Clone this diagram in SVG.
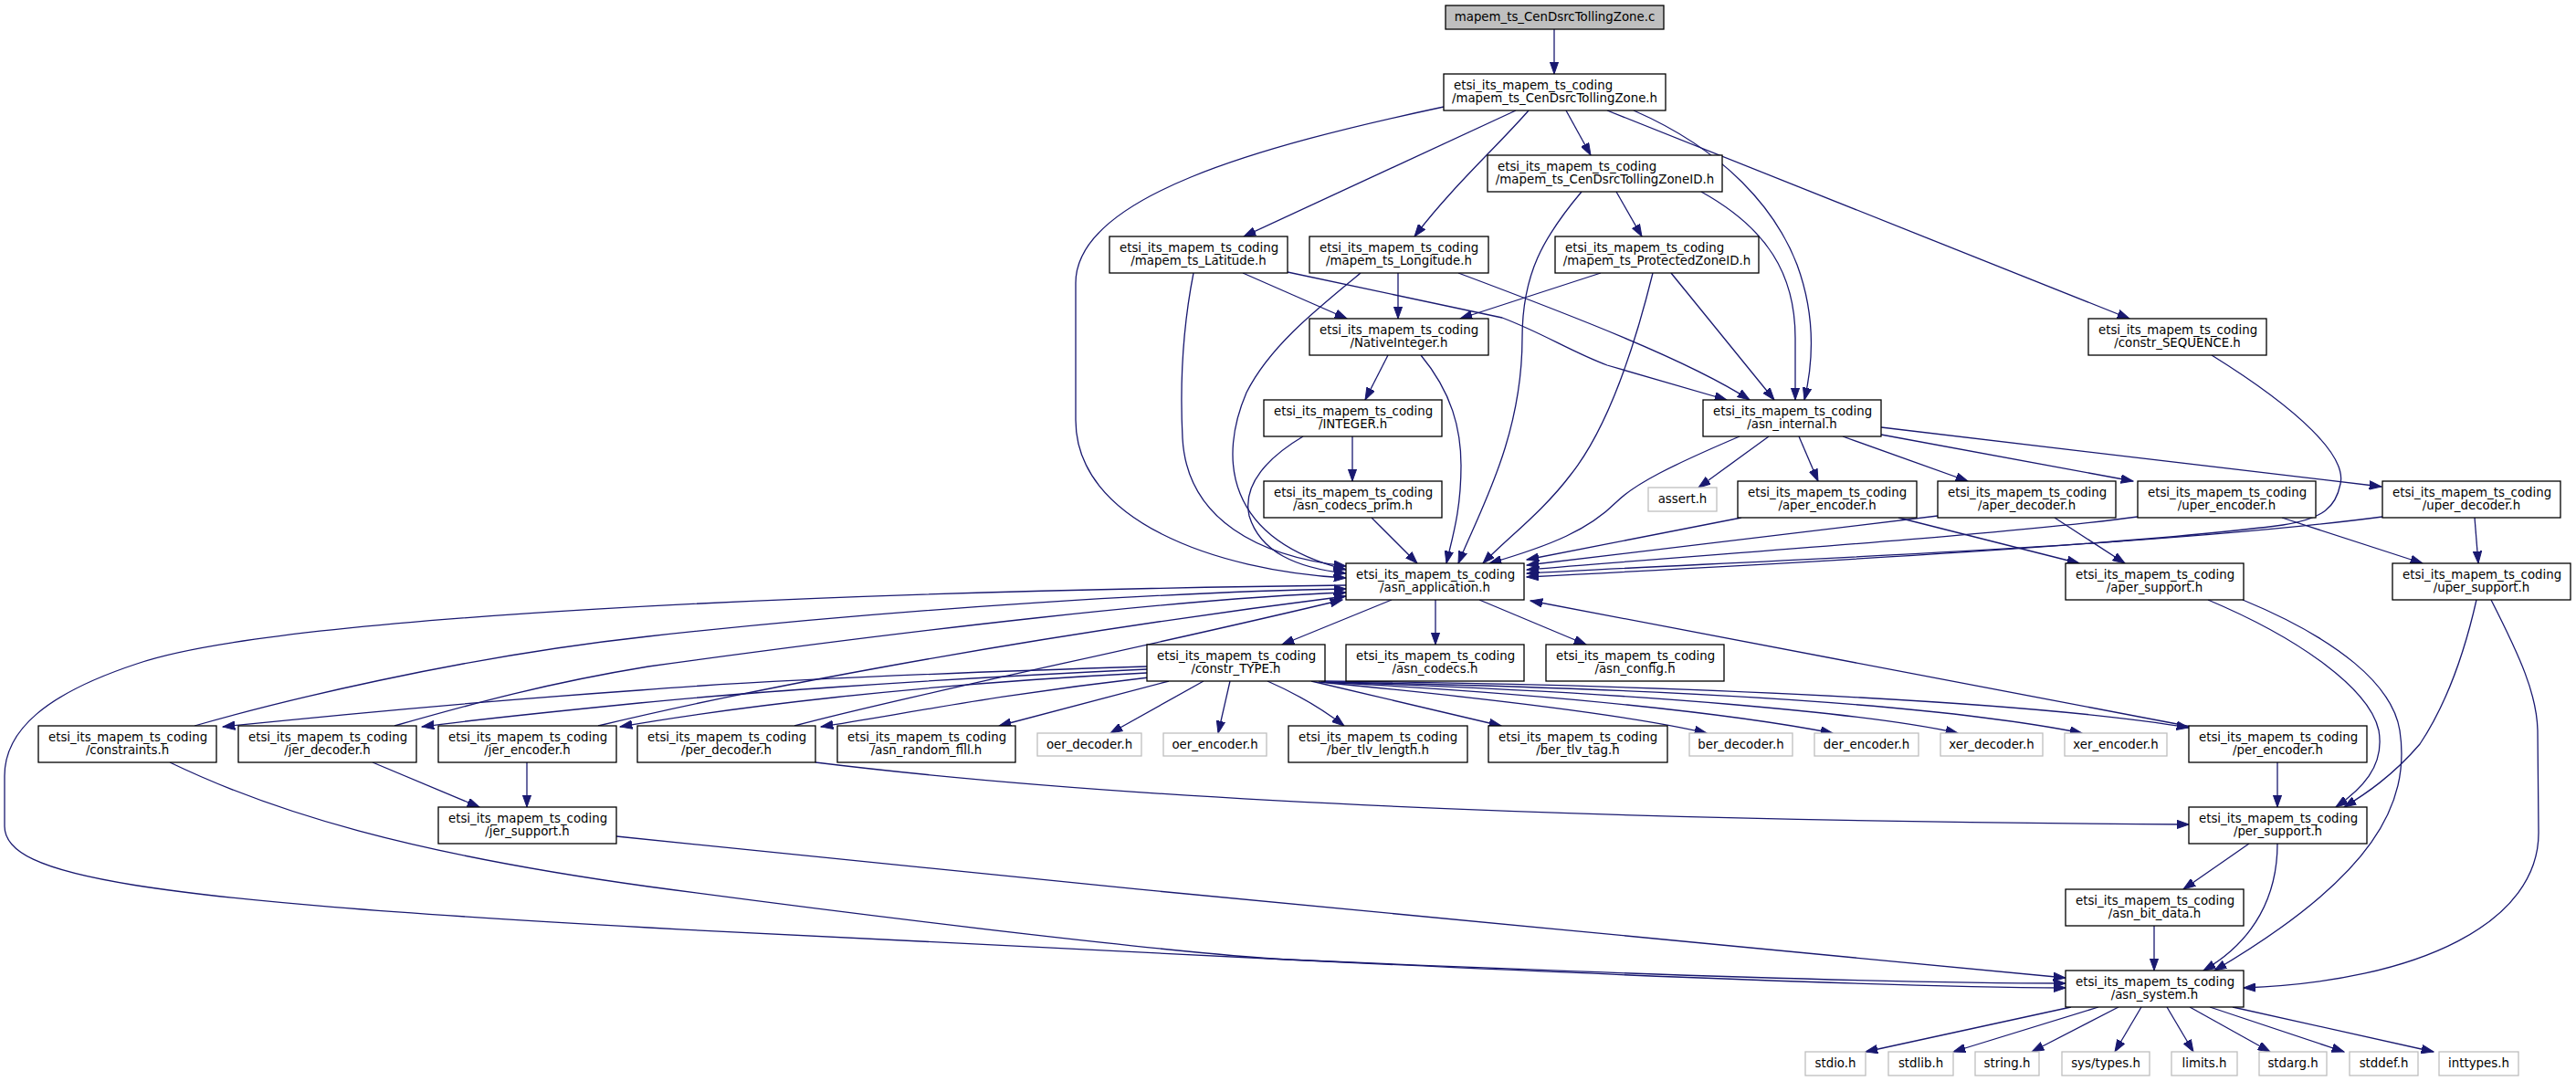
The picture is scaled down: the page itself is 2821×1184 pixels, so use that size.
<svg xmlns="http://www.w3.org/2000/svg" width="2821" height="1184" viewBox="0 0 2821 1184">
<style>
.n rect{fill:#fff;stroke:#000;stroke-width:1.3}
.g rect{fill:#fff;stroke:#bfbfbf;stroke-width:1.3}
.r rect{fill:#bfbfbf;stroke:#000;stroke-width:1.3}
text{font-family:"DejaVu Sans",sans-serif;font-size:13.33px;fill:#000}
.m{text-anchor:middle}
.e path{fill:none;stroke:#191970;stroke-width:1.3;marker-end:url(#a)}
</style>
<defs>
<marker id="a" viewBox="0 0 14 10" refX="13.3" refY="5" markerWidth="14" markerHeight="10" markerUnits="userSpaceOnUse" orient="auto">
<path d="M0,0.3 L13.3,5 L0,9.7 Z" fill="#191970" stroke="#191970" stroke-width="1"/>
</marker>
</defs>
<rect width="2821" height="1184" fill="#fff"/>
<g id="edges" class="e">
<path d="M1702,32 L1702,81"/>
<path d="M1581,117 C1380,160 1178,215 1178,310 L1178,460 C1178,570 1330,625 1474,633"/>
<path d="M1660,121 L1362,259"/>
<path d="M1674,121 C1640,160 1590,205 1549,259"/>
<path d="M1715,121 L1742,170"/>
<path d="M1789,121 C1890,165 1945,230 1968,290 C1990,350 1985,400 1976,438"/>
<path d="M1760,121 L2332,349"/>
<path d="M1732,210 C1690,260 1667,300 1667,370 C1667,480 1620,560 1597,617"/>
<path d="M1770,210 L1798,259"/>
<path d="M1863,210 C1935,250 1966,300 1966,370 L1966,438"/>
<path d="M1307,299 C1295,360 1292,420 1295,480 C1300,570 1380,610 1474,620"/>
<path d="M1361,299 L1475,349"/>
<path d="M1410,298 L1645,348 C1690,365 1720,385 1760,400 L1891,438"/>
<path d="M1531,299 L1531,349"/>
<path d="M1490,299 C1440,340 1390,380 1365,430 C1335,500 1340,590 1474,624"/>
<path d="M1597,299 C1720,345 1850,395 1916,438"/>
<path d="M1753,299 L1599,349"/>
<path d="M1810,299 C1790,380 1760,470 1720,520 C1690,560 1650,590 1624,617"/>
<path d="M1830,299 L1943,438"/>
<path d="M1520,389 L1495,438"/>
<path d="M1556,389 C1590,430 1600,470 1600,510 C1600,560 1590,590 1584,617"/>
<path d="M1481,478 L1481,527"/>
<path d="M1427,478 C1390,500 1360,530 1368,565 C1380,605 1420,622 1474,628"/>
<path d="M1502,567 L1552,617"/>
<path d="M1905,478 C1830,510 1790,530 1770,550 C1740,580 1700,597 1631,617"/>
<path d="M1937,478 L1860,534"/>
<path d="M1970,478 L1991,527"/>
<path d="M2018,478 L2155,527"/>
<path d="M2060,476 L2336,527"/>
<path d="M2060,468 L2608,533"/>
<path d="M1907,567 L1672,613"/>
<path d="M2079,567 L2277,617"/>
<path d="M2122,565 L1672,619"/>
<path d="M2250,567 L2327,617"/>
<path d="M2341,566 C2200,585 1900,605 1672,624"/>
<path d="M2499,567 L2653,617"/>
<path d="M2609,566 C2350,600 1900,615 1672,628"/>
<path d="M2422,389 C2520,450 2570,500 2563,530 C2558,555 2545,568 2500,575 C2350,595 2000,615 1672,632"/>
<path d="M2710,567 L2714,617"/>
<path d="M2418,657 C2520,700 2595,755 2605,800 C2612,840 2585,865 2558,884"/>
<path d="M2456,657 C2560,700 2620,750 2628,800 C2640,880 2600,960 2425,1063"/>
<path d="M2712,657 C2700,710 2680,770 2650,815 C2620,850 2590,870 2567,884"/>
<path d="M2728,657 C2760,720 2778,760 2779,800 L2780,910 C2782,1010 2650,1075 2457,1082"/>
<path d="M1524,657 L1404,706"/>
<path d="M1572,657 L1572,706"/>
<path d="M1620,657 L1737,706"/>
<path d="M1474,641 C900,648 300,675 150,727 C50,760 5,800 5,850 L5,905 C5,960 150,985 710,1016 C1000,1032 1300,1046 1410,1051 C1800,1070 2100,1081 2262,1082"/>
<path d="M213,795 C300,770 500,720 710,697 C1000,665 1300,648 1474,645"/>
<path d="M432,795 C520,770 600,748 710,730 C1000,690 1300,655 1474,649"/>
<path d="M655,795 C800,760 1100,700 1474,653"/>
<path d="M870,795 C1000,760 1250,710 1470,657"/>
<path d="M1256,730 C1000,738 800,748 700,756 C500,770 350,785 244,796"/>
<path d="M1256,733 C1000,745 800,760 700,770 C600,780 520,788 462,796"/>
<path d="M1256,737 C1000,750 800,775 679,796"/>
<path d="M1258,742 C1100,760 1000,780 899,796"/>
<path d="M1280,746 L1094,795"/>
<path d="M1318,746 L1216,803"/>
<path d="M1347,746 L1334,803"/>
<path d="M1388,746 C1420,760 1450,778 1472,795"/>
<path d="M1436,746 L1644,795"/>
<path d="M1444,747 C1600,762 1780,782 1869,803"/>
<path d="M1447,747 C1700,760 1900,782 2007,803"/>
<path d="M1449,747 C1800,758 2050,782 2144,803"/>
<path d="M1450,747 C1900,755 2150,777 2280,803"/>
<path d="M1451,746 C1900,751 2250,772 2397,797"/>
<path d="M2400,796 L1676,658"/>
<path d="M2494,835 L2494,884"/>
<path d="M893,835 C1300,885 1900,900 2397,903"/>
<path d="M408,835 L525,884"/>
<path d="M577,835 L577,884"/>
<path d="M675,916 C1200,970 1800,1030 2262,1071"/>
<path d="M186,835 C300,890 450,935 710,971 C1000,1010 1300,1045 1410,1051 C1800,1068 2100,1077 2262,1077"/>
<path d="M2463,924 L2391,974"/>
<path d="M2494,924 C2494,980 2470,1030 2413,1063"/>
<path d="M2359,1014 L2359,1063"/>
<path d="M2268,1103 L2043,1152"/>
<path d="M2298,1103 L2139,1152"/>
<path d="M2320,1103 L2225,1152"/>
<path d="M2345,1103 L2316,1152"/>
<path d="M2373,1103 L2402,1152"/>
<path d="M2398,1103 L2486,1152"/>
<path d="M2420,1103 L2567,1152"/>
<path d="M2445,1103 L2665,1152"/>
</g>
<g id="n_root" class="r"><rect x="1583" y="6" width="239" height="26"/><text x="1702.5" y="23" class="m">mapem_ts_CenDsrcTollingZone.c</text></g>
<g id="n_cz" class="n"><rect x="1581" y="81" width="243" height="40"/><text x="1592" y="97.5">etsi_its_mapem_ts_coding</text><text x="1702.5" y="111.5" class="m">/mapem_ts_CenDsrcTollingZone.h</text></g>
<g id="n_czid" class="n"><rect x="1629" y="170" width="257" height="40"/><text x="1640" y="186.5">etsi_its_mapem_ts_coding</text><text x="1757.5" y="200.5" class="m">/mapem_ts_CenDsrcTollingZoneID.h</text></g>
<g id="n_lat" class="n"><rect x="1215" y="259" width="195" height="40"/><text x="1226" y="275.5">etsi_its_mapem_ts_coding</text><text x="1312.5" y="289.5" class="m">/mapem_ts_Latitude.h</text></g>
<g id="n_lon" class="n"><rect x="1434" y="259" width="196" height="40"/><text x="1445" y="275.5">etsi_its_mapem_ts_coding</text><text x="1532" y="289.5" class="m">/mapem_ts_Longitude.h</text></g>
<g id="n_pz" class="n"><rect x="1703" y="259" width="223" height="40"/><text x="1714" y="275.5">etsi_its_mapem_ts_coding</text><text x="1814.5" y="289.5" class="m">/mapem_ts_ProtectedZoneID.h</text></g>
<g id="n_nat" class="n"><rect x="1434" y="349" width="196" height="40"/><text x="1445" y="365.5">etsi_its_mapem_ts_coding</text><text x="1532" y="379.5" class="m">/NativeInteger.h</text></g>
<g id="n_seq" class="n"><rect x="2287" y="349" width="195" height="40"/><text x="2298" y="365.5">etsi_its_mapem_ts_coding</text><text x="2384.5" y="379.5" class="m">/constr_SEQUENCE.h</text></g>
<g id="n_integer" class="n"><rect x="1384" y="438" width="195" height="40"/><text x="1395" y="454.5">etsi_its_mapem_ts_coding</text><text x="1481.5" y="468.5" class="m">/INTEGER.h</text></g>
<g id="n_internal" class="n"><rect x="1865" y="438" width="195" height="40"/><text x="1876" y="454.5">etsi_its_mapem_ts_coding</text><text x="1962.5" y="468.5" class="m">/asn_internal.h</text></g>
<g id="n_prim" class="n"><rect x="1384" y="527" width="195" height="40"/><text x="1395" y="543.5">etsi_its_mapem_ts_coding</text><text x="1481.5" y="557.5" class="m">/asn_codecs_prim.h</text></g>
<g id="n_assert" class="g"><rect x="1805" y="534" width="75" height="26"/><text x="1842.5" y="551" class="m">assert.h</text></g>
<g id="n_aenc" class="n"><rect x="1903" y="527" width="196" height="40"/><text x="1914" y="543.5">etsi_its_mapem_ts_coding</text><text x="2001" y="557.5" class="m">/aper_encoder.h</text></g>
<g id="n_adec" class="n"><rect x="2122" y="527" width="195" height="40"/><text x="2133" y="543.5">etsi_its_mapem_ts_coding</text><text x="2219.5" y="557.5" class="m">/aper_decoder.h</text></g>
<g id="n_uenc" class="n"><rect x="2341" y="527" width="195" height="40"/><text x="2352" y="543.5">etsi_its_mapem_ts_coding</text><text x="2438.5" y="557.5" class="m">/uper_encoder.h</text></g>
<g id="n_udec" class="n"><rect x="2609" y="527" width="195" height="40"/><text x="2620" y="543.5">etsi_its_mapem_ts_coding</text><text x="2706.5" y="557.5" class="m">/uper_decoder.h</text></g>
<g id="n_app" class="n"><rect x="1474" y="617" width="195" height="40"/><text x="1485" y="633.5">etsi_its_mapem_ts_coding</text><text x="1571.5" y="647.5" class="m">/asn_application.h</text></g>
<g id="n_asup" class="n"><rect x="2262" y="617" width="195" height="40"/><text x="2273" y="633.5">etsi_its_mapem_ts_coding</text><text x="2359.5" y="647.5" class="m">/aper_support.h</text></g>
<g id="n_usup" class="n"><rect x="2620" y="617" width="195" height="40"/><text x="2631" y="633.5">etsi_its_mapem_ts_coding</text><text x="2717.5" y="647.5" class="m">/uper_support.h</text></g>
<g id="n_type" class="n"><rect x="1256" y="706" width="195" height="40"/><text x="1267" y="722.5">etsi_its_mapem_ts_coding</text><text x="1353.5" y="736.5" class="m">/constr_TYPE.h</text></g>
<g id="n_codecs" class="n"><rect x="1474" y="706" width="195" height="40"/><text x="1485" y="722.5">etsi_its_mapem_ts_coding</text><text x="1571.5" y="736.5" class="m">/asn_codecs.h</text></g>
<g id="n_config" class="n"><rect x="1693" y="706" width="195" height="40"/><text x="1704" y="722.5">etsi_its_mapem_ts_coding</text><text x="1790.5" y="736.5" class="m">/asn_config.h</text></g>
<g id="n_cons" class="n"><rect x="42" y="795" width="195" height="40"/><text x="53" y="811.5">etsi_its_mapem_ts_coding</text><text x="139.5" y="825.5" class="m">/constraints.h</text></g>
<g id="n_jdec" class="n"><rect x="261" y="795" width="195" height="40"/><text x="272" y="811.5">etsi_its_mapem_ts_coding</text><text x="358.5" y="825.5" class="m">/jer_decoder.h</text></g>
<g id="n_jenc" class="n"><rect x="480" y="795" width="195" height="40"/><text x="491" y="811.5">etsi_its_mapem_ts_coding</text><text x="577.5" y="825.5" class="m">/jer_encoder.h</text></g>
<g id="n_pdec" class="n"><rect x="698" y="795" width="195" height="40"/><text x="709" y="811.5">etsi_its_mapem_ts_coding</text><text x="795.5" y="825.5" class="m">/per_decoder.h</text></g>
<g id="n_rand" class="n"><rect x="917" y="795" width="195" height="40"/><text x="928" y="811.5">etsi_its_mapem_ts_coding</text><text x="1014.5" y="825.5" class="m">/asn_random_fill.h</text></g>
<g id="n_oerd" class="g"><rect x="1136" y="803" width="114" height="25"/><text x="1193" y="820" class="m">oer_decoder.h</text></g>
<g id="n_oere" class="g"><rect x="1274" y="803" width="113" height="25"/><text x="1330.5" y="820" class="m">oer_encoder.h</text></g>
<g id="n_btl" class="n"><rect x="1411" y="795" width="196" height="40"/><text x="1422" y="811.5">etsi_its_mapem_ts_coding</text><text x="1509" y="825.5" class="m">/ber_tlv_length.h</text></g>
<g id="n_btt" class="n"><rect x="1630" y="795" width="196" height="40"/><text x="1641" y="811.5">etsi_its_mapem_ts_coding</text><text x="1728" y="825.5" class="m">/ber_tlv_tag.h</text></g>
<g id="n_berd" class="g"><rect x="1850" y="803" width="113" height="25"/><text x="1906.5" y="820" class="m">ber_decoder.h</text></g>
<g id="n_dere" class="g"><rect x="1987" y="803" width="114" height="25"/><text x="2044" y="820" class="m">der_encoder.h</text></g>
<g id="n_xerd" class="g"><rect x="2125" y="803" width="112" height="25"/><text x="2181" y="820" class="m">xer_decoder.h</text></g>
<g id="n_xere" class="g"><rect x="2261" y="803" width="112" height="25"/><text x="2317" y="820" class="m">xer_encoder.h</text></g>
<g id="n_penc" class="n"><rect x="2397" y="795" width="195" height="40"/><text x="2408" y="811.5">etsi_its_mapem_ts_coding</text><text x="2494.5" y="825.5" class="m">/per_encoder.h</text></g>
<g id="n_jsup" class="n"><rect x="480" y="884" width="195" height="40"/><text x="491" y="900.5">etsi_its_mapem_ts_coding</text><text x="577.5" y="914.5" class="m">/jer_support.h</text></g>
<g id="n_psup" class="n"><rect x="2397" y="884" width="195" height="40"/><text x="2408" y="900.5">etsi_its_mapem_ts_coding</text><text x="2494.5" y="914.5" class="m">/per_support.h</text></g>
<g id="n_bit" class="n"><rect x="2262" y="974" width="195" height="40"/><text x="2273" y="990.5">etsi_its_mapem_ts_coding</text><text x="2359.5" y="1004.5" class="m">/asn_bit_data.h</text></g>
<g id="n_sys" class="n"><rect x="2262" y="1063" width="195" height="40"/><text x="2273" y="1079.5">etsi_its_mapem_ts_coding</text><text x="2359.5" y="1093.5" class="m">/asn_system.h</text></g>
<g id="n_stdio" class="g"><rect x="1977" y="1152" width="66" height="26"/><text x="2010" y="1169" class="m">stdio.h</text></g>
<g id="n_stdlib" class="g"><rect x="2068" y="1152" width="71" height="26"/><text x="2103.5" y="1169" class="m">stdlib.h</text></g>
<g id="n_string" class="g"><rect x="2163" y="1152" width="70" height="26"/><text x="2198" y="1169" class="m">string.h</text></g>
<g id="n_systypes" class="g"><rect x="2258" y="1152" width="96" height="26"/><text x="2306" y="1169" class="m">sys/types.h</text></g>
<g id="n_limits" class="g"><rect x="2378" y="1152" width="72" height="26"/><text x="2414" y="1169" class="m">limits.h</text></g>
<g id="n_stdarg" class="g"><rect x="2474" y="1152" width="74" height="26"/><text x="2511" y="1169" class="m">stdarg.h</text></g>
<g id="n_stddef" class="g"><rect x="2573" y="1152" width="75" height="26"/><text x="2610.5" y="1169" class="m">stddef.h</text></g>
<g id="n_inttypes" class="g"><rect x="2671" y="1152" width="87" height="26"/><text x="2714.5" y="1169" class="m">inttypes.h</text></g>
</svg>
